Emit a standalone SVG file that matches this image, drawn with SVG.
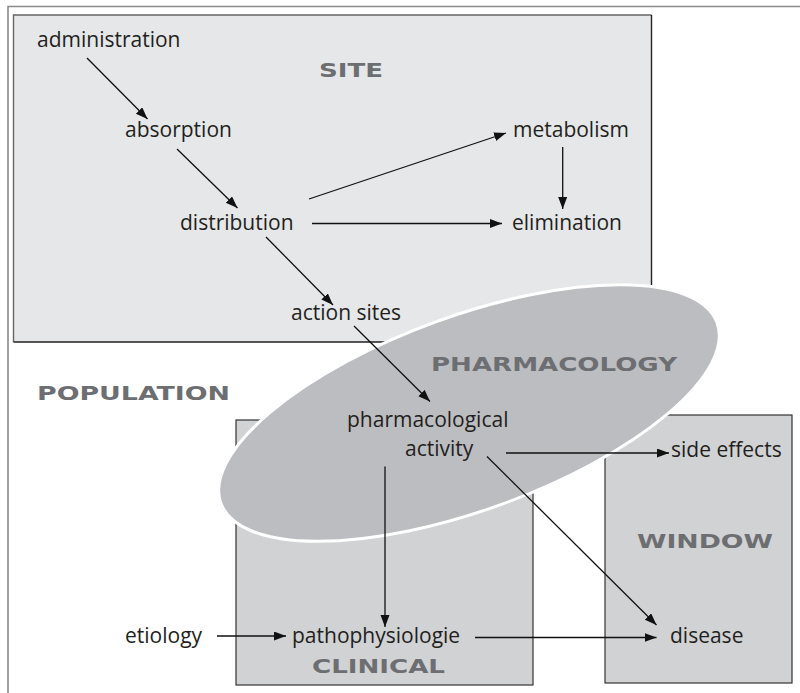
<svg xmlns="http://www.w3.org/2000/svg" width="800" height="693" viewBox="0 0 800 693">
  <style>
    .t { font-family: "Open Sans", Lato, sans-serif; font-size: 21px; fill: #231f20; font-variant-ligatures: none; }
    .lab { font-family: "DejaVu Sans", sans-serif; font-weight: bold; font-size: 20px; fill: #6d6e71; }
    .c { stroke: #111; stroke-width: 1.3; fill: none; marker-end: url(#ah); }
  </style>
  <defs>
    <marker id="ah" markerUnits="userSpaceOnUse" markerWidth="13" markerHeight="10" refX="12" refY="4.5" orient="auto">
      <path d="M0,0 L12,4.5 L0,9 Z" fill="#111"/>
    </marker>
  </defs>
  <rect width="800" height="693" fill="#fff"/>
  <g id="frame">
    <path d="M8,693 V6.5 H800" fill="none" stroke="#8a8a8a" stroke-width="1.6"/>
  </g>
  <g id="site">
    <rect x="13.5" y="15" width="638" height="327" fill="#e6e7e8"/>
    <path d="M13.5,342 V15 H651.5" fill="none" stroke="#666" stroke-width="1.4"/>
    <path d="M651.5,15 V342 H13.5" fill="none" stroke="#222" stroke-width="1.4"/>
    <text class="lab" x="319" y="77" textLength="64" lengthAdjust="spacingAndGlyphs">SITE</text>
  </g>
  <g id="clinical">
    <rect x="236" y="420" width="297" height="265" fill="#d1d2d4" stroke="#333" stroke-width="1.2"/>
    <text class="lab" x="312" y="673" textLength="133" lengthAdjust="spacingAndGlyphs">CLINICAL</text>
  </g>
  <g id="window">
    <rect x="605" y="415" width="187" height="268" fill="#d1d2d4" stroke="#333" stroke-width="1.2"/>
    <text class="lab" x="637" y="548" textLength="136" lengthAdjust="spacingAndGlyphs">WINDOW</text>
  </g>
  <g id="pharmacology">
    <ellipse cx="469" cy="413" rx="264" ry="97" transform="rotate(-20 469 413)" fill="#bcbdc0" stroke="#fff" stroke-width="3"/>
    <text class="lab" x="431" y="371" textLength="246" lengthAdjust="spacingAndGlyphs">PHARMACOLOGY</text>
  </g>
  <g id="population">
    <text class="lab" x="37" y="400" textLength="193" lengthAdjust="spacingAndGlyphs">POPULATION</text>
  </g>
  <g id="n-administration"><text class="t" x="37" y="47">administration</text></g>
  <g id="n-absorption"><text class="t" x="125" y="137">absorption</text></g>
  <g id="n-distribution"><text class="t" x="180" y="230">distribution</text></g>
  <g id="n-metabolism"><text class="t" x="513" y="137">metabolism</text></g>
  <g id="n-elimination"><text class="t" x="512" y="230">elimination</text></g>
  <g id="n-actionsites"><text class="t" x="291" y="320">action sites</text></g>
  <g id="n-pharmact">
    <text class="t" x="347" y="427">pharmacological</text>
    <text class="t" x="405" y="456">activity</text>
  </g>
  <g id="n-sideeffects"><text class="t" x="671" y="457">side effects</text></g>
  <g id="n-etiology"><text class="t" x="125" y="643">etiology</text></g>
  <g id="n-patho"><text class="t" x="292" y="643">pathophysiologie</text></g>
  <g id="n-disease"><text class="t" x="670" y="643">disease</text></g>
  <g id="connectors">
    <line class="c" x1="87" y1="58" x2="147.5" y2="119"/>
    <line class="c" x1="177" y1="149" x2="237.5" y2="208"/>
    <line class="c" x1="266" y1="237" x2="333" y2="305"/>
    <line class="c" x1="354" y1="326" x2="430" y2="401.5"/>
    <line class="c" x1="309" y1="199" x2="506" y2="133"/>
    <line class="c" x1="312" y1="223.5" x2="502" y2="223.5"/>
    <line class="c" x1="562.7" y1="147" x2="562.7" y2="209"/>
    <line class="c" x1="506" y1="453" x2="669" y2="453"/>
    <line class="c" x1="487" y1="456.5" x2="656.5" y2="625"/>
    <line class="c" x1="385" y1="466.5" x2="385" y2="627"/>
    <line class="c" x1="217" y1="636" x2="286" y2="636"/>
    <line class="c" x1="475" y1="637.5" x2="656.5" y2="637.5"/>
  </g>
</svg>
